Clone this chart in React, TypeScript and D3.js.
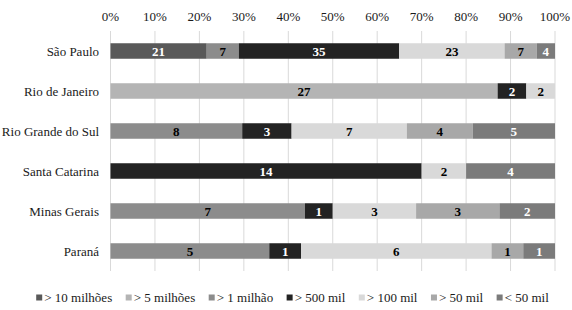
import React from "react";
import * as d3 from "d3";

const categories = ["São Paulo", "Rio de Janeiro", "Rio Grande do Sul", "Santa Catarina", "Minas Gerais", "Paraná"];
const seriesNames = ["> 10 milhões", "> 5 milhões", "> 1 milhão", "> 500 mil", "> 100 mil", "> 50 mil", "< 50 mil"];
const gt10M = [21, 0, 0, 0, 0, 0];
const gt5M = [0, 27, 0, 0, 0, 0];
const gt1M = [7, 0, 8, 0, 7, 5];
const gt500k = [35, 2, 3, 14, 1, 1];
const gt100k = [23, 2, 7, 2, 3, 6];
const gt50k = [7, 0, 4, 0, 3, 1];
const lt50k = [4, 0, 5, 4, 2, 1];
const tickValues = [0, 0.1, 0.2, 0.3, 0.4, 0.5, 0.6, 0.7, 0.8, 0.9, 1];

const seriesValues = [gt10M, gt5M, gt1M, gt500k, gt100k, gt50k, lt50k];
const colors = ["#595959", "#b4b4b4", "#8c8c8c", "#232323", "#d9d9d9", "#a8a8a8", "#7b7b7b"];
const labelColors = ["#ffffff", "#000000", "#000000", "#ffffff", "#000000", "#000000", "#ffffff"];

const W = 572;
const H = 310;
const FONT = "Liberation Serif";
const textStyle = { fontFamily: FONT };

function measure(text: string, size: number): number {
  if (typeof document === "undefined") return text.length * size * 0.45;
  const c = document.createElement("canvas").getContext("2d");
  if (!c) return text.length * size * 0.45;
  c.font = `${size}px "${FONT}"`;
  return c.measureText(text).width;
}

export default function App() {
  const rows = categories.map((c, i) => {
    const r: any = { cat: c };
    seriesNames.forEach((s, k) => (r[s] = seriesValues[k][i]));
    return r;
  });
  const stacked = d3.stack<any>().keys(seriesNames).offset(d3.stackOffsetExpand)(rows);

  const x = d3.scaleLinear().domain([0, 1]).range([110.5, 555]);
  const y = d3.scaleBand<string>().domain(categories).range([31, 271]).padding(0);
  const barH = 15.5;
  const fmt = d3.format(".0%");

  const gap = 13.5;
  const widths = seriesNames.map((s) => 8 + measure(s, 13));
  const total = d3.sum(widths) + gap * (widths.length - 1);
  let acc = 292.5 - total / 2;
  const legendX = widths.map((w) => {
    const p = acc;
    acc += w + gap;
    return p;
  });

  return (
    <svg
      width={W}
      height={H}
      style={{ position: "absolute", left: 0, top: 0, background: "#fff", display: "block", fontFamily: FONT }}
    >
      <g>
        {tickValues.map((t) => (
          <line key={t} x1={x(t)} x2={x(t)} y1={31} y2={271} stroke="#d9d9d9" strokeWidth={1} />
        ))}
      </g>
      <g>
        {tickValues.map((t) => (
          <text key={t} x={x(t)} y={20.5} textAnchor="middle" fontSize={13} fill="#1a1a1a" style={textStyle}>
            {fmt(t)}
          </text>
        ))}
      </g>
      <g>
        {categories.map((c) => (
          <text
            key={c}
            x={99}
            y={(y(c) as number) + y.bandwidth() / 2 + 4.5}
            textAnchor="end"
            fontSize={13}
            fill="#1a1a1a"
            style={textStyle}
          >
            {c}
          </text>
        ))}
      </g>
      {stacked.map((layer, k) => {
        const segs = layer.filter((d) => d[1] - d[0] > 0);
        return (
          <g key={seriesNames[k]}>
            {segs.map((d) => (
              <rect
                key={d.data.cat}
                x={x(d[0])}
                width={x(d[1]) - x(d[0])}
                y={(y(d.data.cat) as number) + (y.bandwidth() - barH) / 2}
                height={barH}
                fill={colors[k]}
              />
            ))}
            {segs.map((d) => (
              <text
                key={"t" + d.data.cat}
                x={(x(d[0]) + x(d[1])) / 2}
                y={(y(d.data.cat) as number) + y.bandwidth() / 2 + 4.5}
                textAnchor="middle"
                fontSize={13}
                fontWeight="bold"
                fill={labelColors[k]}
                style={textStyle}
              >
                {String(d.data[seriesNames[k]])}
              </text>
            ))}
          </g>
        );
      })}
      <g>
        {seriesNames.map((s, k) => (
          <g key={s} transform={`translate(${legendX[k]},0)`}>
            <rect width={6} height={6} y={294.5} fill={colors[k]} />
            <text x={8} y={301.5} fontSize={13} fill="#1a1a1a" style={textStyle}>
              {s}
            </text>
          </g>
        ))}
      </g>
    </svg>
  );
}
